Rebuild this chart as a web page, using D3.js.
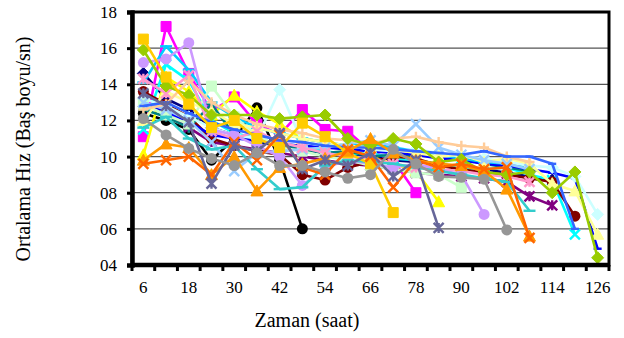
<!DOCTYPE html>
<html>
<head>
<meta charset="utf-8">
<script src="https://cdn.jsdelivr.net/npm/d3@7"></script>
<style>
  body { margin: 0; background: #fff; }
  svg text { font-family: "Times New Roman", "Liberation Serif", "DejaVu Serif", serif; }
</style>
</head>
<body>
<div id="chart"></div>
<script>
// categories (hours) and axis ticks
const hours = [6, 12, 18, 24, 30, 36, 42, 48, 54, 60, 66, 72, 78, 84, 90, 96, 102, 108, 114, 120, 126];
const hourLabels = [6, 18, 30, 42, 54, 66, 78, 90, 102, 114, 126];
const speedTicks = [4, 6, 8, 10, 12, 14, 16, 18];

// one row per fish, hours 6..126 (null = no more data)
const speeds = [
  [12.4, 12.0, 11.5, 9.8, 11.0, 12.7, 9.8, 6.0, null, null, null, null, null, null, null, null, null, null, null, null, null],
  [14.6, 13.2, 12.6, 11.6, 11.2, 10.8, 10.6, 10.4, 10.2, 10.0, 10.1, 9.8, 9.7, 9.6, 9.4, 9.3, 9.1, 8.9, 8.7, null, null],
  [11.1, 17.2, 14.6, 12.5, 13.3, 11.8, 11.2, 12.6, 11.5, 11.4, 10.3, 9.8, 8.0, null, null, null, null, null, null, null, null],
  [10.1, 14.4, 13.6, 12.3, 13.4, 12.5, 11.8, 11.0, 10.8, 10.4, 10.0, 9.6, 9.2, 7.5, null, null, null, null, null, null, null],
  [11.5, 15.1, 14.2, 12.0, 11.3, 11.0, 10.7, 10.6, 10.3, 10.1, 10.2, 9.9, 9.8, 9.6, 9.4, 9.3, 9.4, 9.0, 8.7, 5.7, null],
  [13.0, 12.4, 11.6, 10.8, 10.6, 10.4, 10.2, 10.0, 9.8, 9.6, 9.5, 9.3, 9.1, 9.0, 8.9, 8.8, 8.6, 7.8, 7.3, null, null],
  [13.6, 12.9, 12.2, 11.0, 10.6, 10.3, 10.1, 9.0, 8.7, 9.4, 9.7, 10.0, 9.9, 9.5, 9.3, 9.1, 9.0, 8.8, 8.6, 6.7, null],
  [12.6, 12.2, 11.6, 12.9, 11.2, 10.9, 10.6, 10.4, 10.2, 10.3, 10.0, 10.1, 10.0, 10.2, 9.9, 9.6, 9.4, 9.2, null, null, null],
  [12.8, 12.5, 11.9, 11.2, 11.0, 10.9, 10.7, 10.6, 10.5, 10.4, 10.3, 10.2, 10.1, 9.9, 9.8, 9.6, 9.5, 9.3, 9.1, 8.8, 4.9],
  [14.1, 16.1, 14.8, 13.0, 12.2, 11.6, 11.3, 11.0, 10.8, 10.6, 10.7, 10.5, 10.3, 10.1, 9.9, 9.7, 9.6, 9.4, null, null, null],
  [13.2, 12.8, 12.2, 11.6, 11.2, 11.0, 13.7, 10.8, 10.6, 10.6, 10.4, 10.3, 10.4, 10.2, 10.0, 9.9, 9.7, 9.5, 9.4, 8.9, 6.8],
  [12.9, 12.3, 11.8, 13.9, 12.2, 11.2, 10.5, 10.3, 10.0, 9.8, 9.5, 9.3, 9.1, 9.0, 8.3, null, null, null, null, null, null],
  [12.0, 13.6, 13.0, 12.5, 11.8, 11.6, 11.3, 11.0, 10.8, 10.6, 10.5, 10.4, 10.2, 10.0, 10.1, 9.7, 9.9, 9.6, 8.5, 8.1, 5.7],
  [13.0, 12.6, 12.0, 10.8, 9.2, 10.2, 10.3, 10.4, 10.5, 10.7, 10.9, 10.6, 11.8, 10.5, 10.1, 9.8, 9.6, 9.3, null, null, null],
  [14.3, 13.5, 14.5, 11.4, 11.0, 11.4, 10.8, 10.5, 10.2, 10.0, 9.9, 9.6, 9.4, 9.3, 9.2, 9.0, 8.9, 8.6, null, null, null],
  [15.2, 15.4, 16.3, 11.5, 11.2, 10.6, 10.0, 8.4, 9.4, 9.8, 9.6, 9.4, 9.6, 9.3, 9.0, 6.8, null, null, null, null, null],
  [12.6, 12.9, 14.2, 13.0, 12.3, 11.8, 11.5, 11.3, 11.0, 10.9, 10.7, 11.0, 11.1, 10.8, 10.6, 10.5, 10.0, 9.7, null, null, null],
  [12.8, 13.0, 12.4, 11.9, 11.5, 11.2, 10.9, 10.8, 10.6, 10.5, 10.5, 10.4, 10.3, 10.2, 10.1, 10.3, 10.0, 10.0, 9.6, 6.0, null],
  [11.6, 12.2, 11.0, 10.4, 10.6, 9.3, 8.2, 8.3, 9.5, 9.8, 9.7, 9.6, 9.4, 9.2, 9.0, 8.8, 8.6, 7.0, null, null, null],
  [15.9, 13.9, 13.4, 12.3, 12.3, 12.3, 12.1, 12.2, 12.3, 11.0, 10.6, 11.0, 10.7, 9.7, 9.85, 9.15, 9.0, 9.15, 8.0, 9.15, 4.4],
  [16.5, 14.4, 12.9, 11.6, 12.0, 11.0, 10.5, 11.85, 11.1, 10.2, 9.6, 6.9, null, null, null, null, null, null, null, null, null],
  [9.8, 10.7, 10.5, 9.0, 10.0, 8.1, 9.4, 9.6, 9.9, 10.3, 11.0, 10.2, 9.8, 9.6, 9.5, 9.2, 8.2, 5.6, null, null, null],
  [9.6, 9.8, 10.0, 9.0, 10.8, 9.8, 11.2, 9.4, 9.0, 10.4, 10.0, 8.3, 9.8, 9.4, 9.6, 9.3, 9.4, 5.5, null, null, null],
  [13.5, 12.8, 11.9, 8.5, 10.6, 10.3, 11.3, 9.3, 9.8, 9.5, 10.2, 8.9, 9.8, 6.05, null, null, null, null, null, null, null],
  [12.1, 11.2, 10.45, 9.9, 9.5, 10.2, 9.5, 9.5, 9.15, 8.8, 9.0, 10.4, 9.6, 8.9, 8.85, 8.75, 5.94, null, null, null, null]
];

// styles, kept apart from the data
const seriesColors = ["#000000", "#000080", "#FF00FF", "#FFFF00", "#00FFFF", "#800080", "#800000", "#008080", "#0000FF",
  "#00CCFF", "#CCFFFF", "#CCFFCC", "#FFFF99", "#99CCFF", "#FF99CC", "#CC99FF", "#FFCC99",
  "#3366FF", "#33CCCC", "#99CC00", "#FFCC00", "#FF9900", "#FF6600", "#666699", "#969696"];
const markerCycle = ["diamond", "square", "triangle", "x", "star", "circle", "plus", "dash", "longdash"];

const width = 624, height = 338;
const margin = {left: 132, right: 15, top: 12, bottom: 73};

const svg = d3.select("#chart").append("svg")
    .attr("width", width).attr("height", height);

const x = d3.scaleBand()
    .domain(hours)
    .range([margin.left, width - margin.right])
    .padding(0);
const y = d3.scaleLinear()
    .domain([4, 18])
    .range([height - margin.bottom, margin.top]);

const cx = h => x(h) + x.bandwidth() / 2;

// gridlines
svg.append("g").selectAll("line")
    .data(speedTicks.slice(1, -1))
    .join("line")
    .attr("x1", margin.left).attr("x2", width - margin.right)
    .attr("y1", d => y(d)).attr("y2", d => y(d))
    .attr("stroke", "#555").attr("stroke-width", 1.2);

// series
function markerPath(kind, s) {
    const h = s / 2;
    switch (kind) {
        case "diamond": return `M0,${-h - 1}L${h + 1},0L0,${h + 1}L${-h - 1},0Z`;
        case "square": return `M${-h},${-h}H${h}V${h}H${-h}Z`;
        case "triangle": return `M0,${-h - 1}L${h + 1},${h}L${-h - 1},${h}Z`;
        case "x": return `M${-h},${-h}L${h},${h}M${-h},${h}L${h},${-h}`;
        case "star": return `M${-h},${-h}L${h},${h}M${-h},${h}L${h},${-h}M0,${-h}V${h}`;
        case "plus": return `M${-h},0H${h}M0,${-h}V${h}`;
        case "dash": return `M${-h * 0.8},0H${h * 0.8}`;
        case "longdash": return `M${-h * 1.2},0H${h * 1.2}`;
        default: return null;
    }
}
const filled = ["diamond", "square", "triangle"];

const line = d3.line()
    .defined(d => d.v != null)
    .x(d => cx(d.h))
    .y(d => y(d.v));

speeds.forEach((row, i) => {
    const color = seriesColors[i];
    const kind = i === 0 ? "circle" : markerCycle[(i - 1) % markerCycle.length];
    const pts = row.map((v, j) => ({h: hours[j], v: v}));
    const g = svg.append("g");

    g.append("path")
        .datum(pts)
        .attr("d", line)
        .attr("fill", "none")
        .attr("stroke", color)
        .attr("stroke-width", 2.6)
        .attr("stroke-linejoin", "round");

    const mk = g.selectAll(".m").data(pts.filter(d => d.v != null));
    if (kind === "circle") {
        mk.join("circle")
            .attr("cx", d => cx(d.h)).attr("cy", d => y(d.v))
            .attr("r", 5.5)
            .attr("fill", color);
    } else {
        mk.join("path")
            .attr("transform", d => `translate(${cx(d.h)},${y(d.v)})`)
            .attr("d", markerPath(kind, 10))
            .attr("fill", filled.includes(kind) ? color : "none")
            .attr("stroke", color)
            .attr("stroke-width", filled.includes(kind) ? 1 : 2.4);
    }
});

// frame
svg.append("rect")
    .attr("x", margin.left).attr("y", margin.top)
    .attr("width", width - margin.right - margin.left)
    .attr("height", height - margin.bottom - margin.top)
    .attr("fill", "none").attr("stroke", "#000").attr("stroke-width", 3);

// y axis
const yAxis = svg.append("g")
    .attr("transform", `translate(${margin.left},0)`)
    .call(d3.axisLeft(y).tickValues(speedTicks).tickSize(5).tickPadding(10)
        .tickFormat(d3.format("02d")));
yAxis.select(".domain").attr("stroke-width", 4.5);
yAxis.selectAll(".tick line").attr("stroke-width", 3);
yAxis.selectAll("text").attr("font-size", 17);

// x axis: ticks at category boundaries, labels every 12 hours
const xAxisG = svg.append("g")
    .attr("transform", `translate(0,${height - margin.bottom})`);
xAxisG.append("line")
    .attr("x1", margin.left - 1).attr("x2", width - margin.right + 1)
    .attr("stroke", "#000").attr("stroke-width", 4.5);
xAxisG.selectAll(".tk")
    .data(hours.concat([null]))
    .join("line")
    .attr("x1", (d, i) => margin.left + i * x.bandwidth())
    .attr("x2", (d, i) => margin.left + i * x.bandwidth())
    .attr("y1", 0).attr("y2", 6)
    .attr("stroke", "#000").attr("stroke-width", 3);
xAxisG.selectAll(".lbl")
    .data(hourLabels)
    .join("text")
    .attr("x", d => cx(d))
    .attr("y", 28)
    .attr("text-anchor", "middle")
    .attr("font-size", 17)
    .text(d => d);

// titles
svg.append("text")
    .attr("x", 307).attr("y", 327)
    .attr("text-anchor", "middle")
    .attr("font-size", 20)
    .text("Zaman (saat)");
svg.append("text")
    .attr("transform", "translate(30,149) rotate(-90)")
    .attr("text-anchor", "middle")
    .attr("font-size", 20)
    .text("Ortalama Hız (Baş boyu/sn)");
</script>
</body>
</html>
